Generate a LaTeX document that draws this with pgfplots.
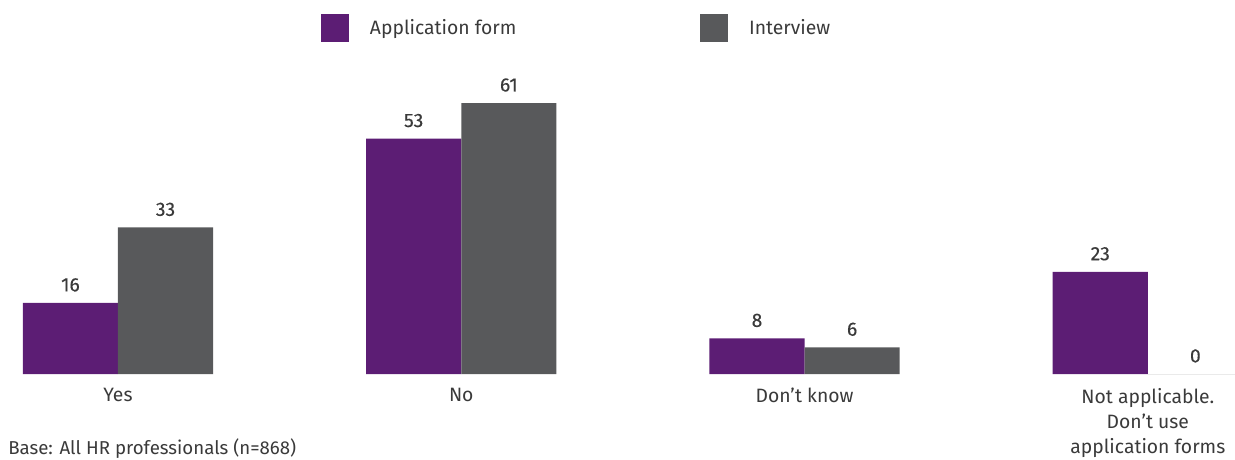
\documentclass[border=0pt]{standalone}
\usepackage{pgfplots}
\pgfplotsset{compat=1.18}
\usepackage{fontspec}
\setmainfont{Fira Sans}
\definecolor{cpurple}{HTML}{5C1D74}
\definecolor{cgray}{HTML}{58595B}
\definecolor{ctext}{HTML}{3A3A3A}
\begin{document}
\begin{tikzpicture}[x=0.75pt,y=0.75pt]
\begin{axis}[
  scale only axis,
  width=926.25pt, height=235.5pt,
  xmin=-0.3437, xmax=3.254,
  ymin=0, ymax=70.7,
  axis x line*=bottom,
  axis line style={draw=none},
  hide y axis,
  ybar, bar width=0.277, 
  xtick=data,
  xticklabels={Yes,No,Don’t know,{Not applicable.\\Don’t use\\application forms}},
  font=\fontsize{14.5}{16}\selectfont,
  /pgf/number format/assume math mode=true,
  xticklabel style={align=center, anchor=north, yshift=-7pt, text=ctext, font=\fontsize{14.5}{19}\selectfont},
  major tick length=0pt,
  nodes near coords,
  every node near coord/.append style={text=ctext, font=\fontsize{14.5}{16}\selectfont\addfontfeatures{FakeBold=0.3}, yshift=5pt},
  legend columns=2,
  legend style={draw=none, fill=none, inner sep=0pt, at={(0.2594,1.0)}, anchor=south west, yshift=13.5pt,
     font=\fontsize{14.5}{16}\selectfont, text=ctext,
     /tikz/every odd column/.append style={column sep=14pt},
     /tikz/every even column/.append style={column sep=135.5pt}},
  legend image code/.code={\fill[#1] (0pt,-10.5pt) rectangle (21pt,10.5pt);},
]
\addplot[fill=cpurple, draw=none, bar shift=-0.1385] coordinates {(0,16) (1,53) (2,8) (3,23)};
\addplot[fill=cgray, draw=none, bar shift=0.1385] coordinates {(0,33) (1,61) (2,6) (3,0)};
\legend{Application form, Interview}
\end{axis}
\node[anchor=west, text=ctext, font=\fontsize{14}{16}\selectfont, inner sep=0pt] at ([xshift=6pt,yshift=-56pt]current axis.south west) {Base: All HR professionals (n=868)};
\pgfresetboundingbox
\path ([yshift=-63.75pt]current axis.south west) rectangle ([yshift=45pt]current axis.north east);
\end{tikzpicture}
\end{document}
